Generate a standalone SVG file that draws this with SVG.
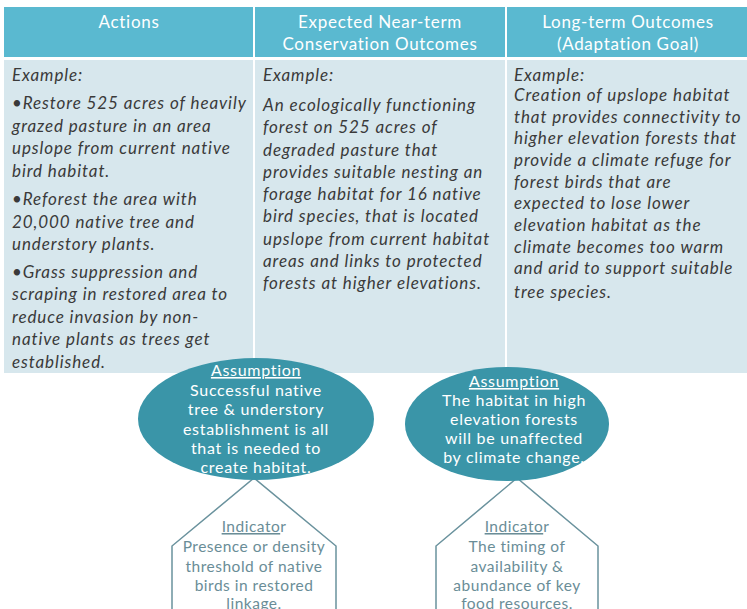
<svg xmlns="http://www.w3.org/2000/svg" width="747" height="609" viewBox="0 0 747 609">
<style>
.hdr{fill:#5ab9d0}
.cell{fill:#d7e7ed}
.ht{font-family:"Lato","Open Sans",sans-serif;font-size:17px;letter-spacing:0.7px;fill:#ffffff;text-anchor:middle}
.bt{font-family:"Lato","Open Sans",sans-serif;font-size:17px;letter-spacing:0.9px;font-style:italic;fill:#3a3a3a}
.ell{fill:#3a95a8}
.et{font-family:"Lato","Open Sans",sans-serif;font-size:16px;letter-spacing:0.7px;fill:#ffffff;text-anchor:middle}
.pent{fill:#ffffff;stroke:#6a929d;stroke-width:1.5}
.it{font-family:"Lato","Open Sans",sans-serif;font-size:15.5px;letter-spacing:0.5px;fill:#6a8d97;text-anchor:middle}
</style>
<rect width="747" height="609" fill="#ffffff"/>
<g id="table">
<rect class="hdr" x="4" y="7" width="249" height="50"/>
<rect class="hdr" x="255" y="7" width="250" height="50"/>
<rect class="hdr" x="507" y="7" width="240" height="50"/>
<rect class="cell" x="4" y="60" width="249" height="313"/>
<rect class="cell" x="255" y="60" width="250" height="313"/>
<rect class="cell" x="507" y="60" width="240" height="313"/>
<text class="ht" x="129" y="28">Actions</text>
<text class="ht" x="380" y="28">Expected Near-term</text>
<text class="ht" x="380" y="50">Conservation Outcomes</text>
<text class="ht" x="628" y="28">Long-term Outcomes</text>
<text class="ht" x="628" y="50">(Adaptation Goal)</text>
</g>
<g id="col-actions" class="bt">
<text x="12" y="81">Example:</text>
<text x="12" y="109">•Restore 525 acres of heavily</text>
<text x="12" y="132">grazed pasture in an area</text>
<text x="12" y="154">upslope from current native</text>
<text x="12" y="177">bird habitat.</text>
<text x="12" y="205">•Reforest the area with</text>
<text x="12" y="228">20,000 native tree and</text>
<text x="12" y="250">understory plants.</text>
<text x="12" y="278">•Grass suppression and</text>
<text x="12" y="300">scraping in restored area to</text>
<text x="12" y="323">reduce invasion by non-</text>
<text x="12" y="345">native plants as trees get</text>
<text x="12" y="368">established.</text>
</g>
<g id="col-near" class="bt">
<text x="263" y="81">Example:</text>
<text x="263" y="111">An ecologically functioning</text>
<text x="263" y="133">forest on 525 acres of</text>
<text x="263" y="156">degraded pasture that</text>
<text x="263" y="178">provides suitable nesting an</text>
<text x="263" y="200">forage habitat for 16 native</text>
<text x="263" y="222">bird species, that is located</text>
<text x="263" y="245">upslope from current habitat</text>
<text x="263" y="267">areas and links to protected</text>
<text x="263" y="289">forests at higher elevations.</text>
</g>
<g id="col-long" class="bt">
<text x="514" y="81">Example:</text>
<text x="514" y="101">Creation of upslope habitat</text>
<text x="514" y="123">that provides connectivity to</text>
<text x="514" y="144">higher elevation forests that</text>
<text x="514" y="166">provide a climate refuge for</text>
<text x="514" y="188">forest birds that are</text>
<text x="514" y="209">expected to lose lower</text>
<text x="514" y="231">elevation habitat as the</text>
<text x="514" y="253">climate becomes too warm</text>
<text x="514" y="274">and arid to support suitable</text>
<text x="514" y="298">tree species.</text>
</g>
<g id="indicator1">
<path class="pent" d="M172,612 L172,546 L254,478 L336,546 L336,612"/>
<text class="it" x="254" y="532"><tspan text-decoration="underline">Indicato</tspan>r</text>
<text class="it" x="254" y="552">Presence or density</text>
<text class="it" x="254" y="572">threshold of native</text>
<text class="it" x="254" y="591">birds in restored</text>
<text class="it" x="254" y="609">linkage.</text>
</g>
<g id="indicator2">
<path class="pent" d="M436,612 L436,546 L517,478 L598,546 L598,612"/>
<text class="it" x="517" y="532"><tspan text-decoration="underline">Indicato</tspan>r</text>
<text class="it" x="517" y="552">The timing of</text>
<text class="it" x="517" y="572">availability &amp;</text>
<text class="it" x="517" y="591">abundance of key</text>
<text class="it" x="517" y="609">food resources.</text>
</g>
<g id="assumption1">
<ellipse class="ell" cx="256" cy="419" rx="118" ry="61"/>
<text class="et" x="256" y="376" text-decoration="underline">Assumption</text>
<text class="et" x="256" y="396">Successful native</text>
<text class="et" x="256" y="415">tree &amp; understory</text>
<text class="et" x="256" y="435">establishment is all</text>
<text class="et" x="256" y="454">that is needed to</text>
<text class="et" x="256" y="473">create habitat.</text>
</g>
<g id="assumption2">
<ellipse class="ell" cx="507" cy="424" rx="102" ry="57"/>
<text class="et" x="514" y="387" text-decoration="underline">Assumption</text>
<text class="et" x="514" y="406">The habitat in high</text>
<text class="et" x="514" y="425">elevation forests</text>
<text class="et" x="514" y="444">will be unaffected</text>
<text class="et" x="514" y="463">by climate change.</text>
</g>
<g id="connectors"></g>
</svg>
